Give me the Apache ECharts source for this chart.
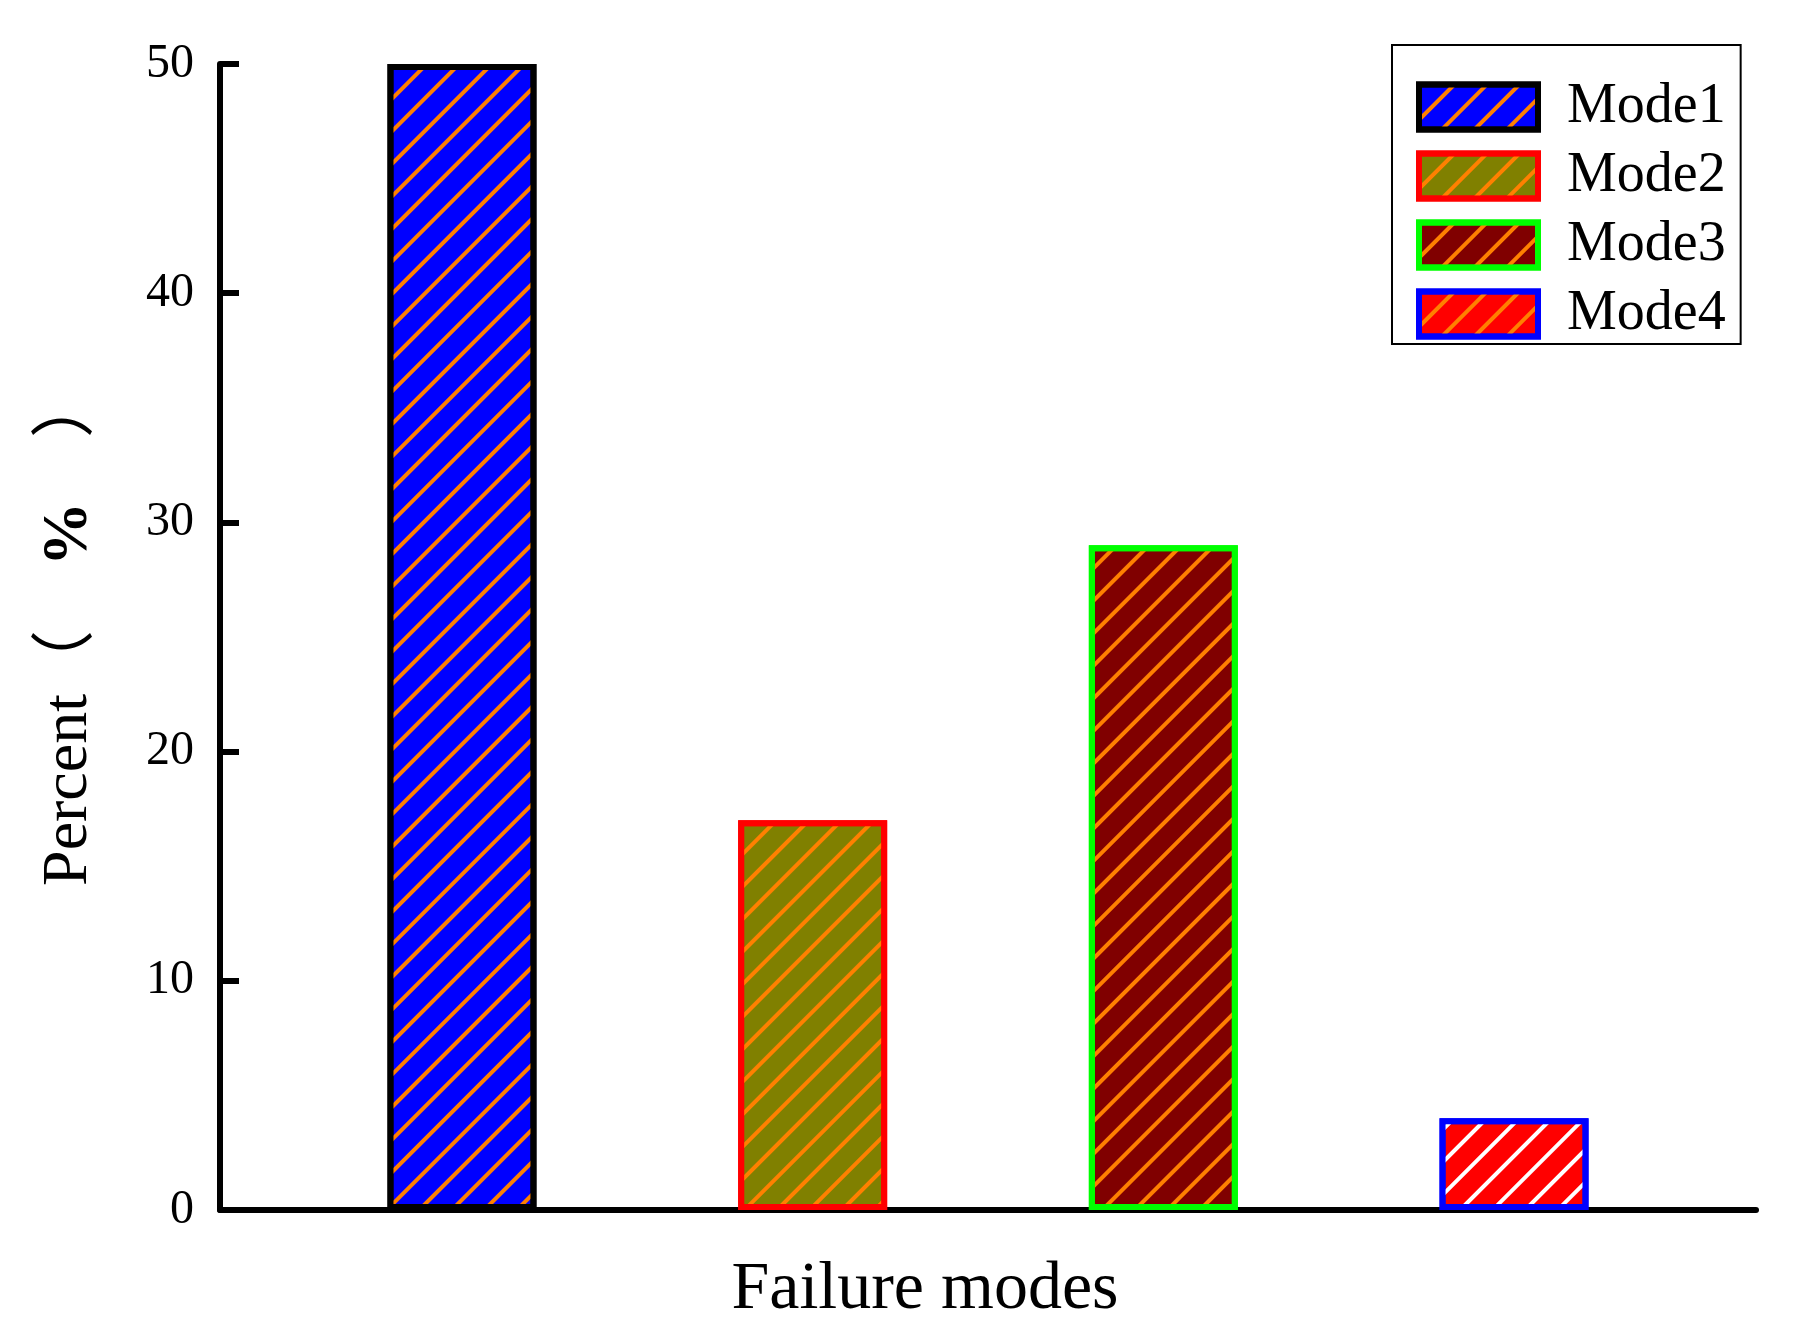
<!DOCTYPE html>
<html>
<head>
<meta charset="utf-8">
<title>Failure modes</title>
<script src="https://cdn.jsdelivr.net/npm/echarts@6/dist/echarts.min.js"></script>
<style>
    html, body { margin: 0; padding: 0; background: #fff; }
    #chart { width: 1797px; height: 1336px; }
</style>
</head>
<body>
<div id="chart"></div>
<script>
    // 数据
    var modeNames = ['Mode1', 'Mode2', 'Mode3', 'Mode4'];
    var percentValues = [50, 17, 29, 4];
    var yTicks = [0, 10, 20, 30, 40, 50];

    // 样式
    var fillColors = ['#0000ff', '#808000', '#800000', '#ff0000'];
    var borderColors = ['#000000', '#ff0000', '#00ff00', '#0000ff'];
    var stripeColors = ['#ff8000', '#ff8000', '#ff8000', '#ffffff'];

    var fontEn = "'Liberation Serif', 'Noto Sans CJK SC', serif";

    // 斜线填充
    function stripe(color) {
        return {
            symbol: 'rect',
            symbolSize: 1,
            color: color,
            dashArrayX: [1, 0],
            dashArrayY: [4, 19],
            rotation: -Math.PI / 4
        };
    }

    var seriesList = [];
    var legendData = [];
    modeNames.forEach(function (name, i) {
        seriesList.push({
            name: name,
            type: 'bar',
            barWidth: 149,
            barGap: '-100%',
            data: [[i + 1, percentValues[i]]],
            itemStyle: {
                color: fillColors[i],
                borderColor: borderColors[i],
                borderWidth: 6,
                decal: stripe(stripeColors[i])
            }
        });
        legendData.push({
            name: name,
            itemStyle: {
                color: fillColors[i],
                borderColor: borderColors[i],
                borderWidth: 6,
                decal: stripe('#ff8000')
            }
        });
    });

    var myChart = echarts.init(document.getElementById('chart'));
    myChart.setOption({
        animation: false,
        backgroundColor: '#fff',
        grid: {
            left: 220,
            right: 41,
            top: 64,
            bottom: 126
        },
        legend: {
            orient: 'vertical',
            left: 1392,
            top: 45,
            icon: 'rect',
            itemWidth: 119,
            itemHeight: 45,
            itemGap: 13,
            padding: [34, 15, 2, 24],
            borderColor: '#000',
            borderWidth: 2,
            textStyle: {
                fontFamily: fontEn,
                fontSize: 56,
                color: '#000',
                padding: [0, 0, 0, 24]
            },
            data: legendData
        },
        xAxis: {
            type: 'value',
            min: 0.31,
            max: 4.69,
            name: 'Failure modes',
            nameLocation: 'middle',
            nameGap: 46,
            nameTextStyle: {
                fontFamily: fontEn,
                fontSize: 68,
                color: '#000',
                padding: [0, 126, 0, 0]
            },
            axisLine: { lineStyle: { color: '#000', width: 6 } },
            axisTick: { show: false },
            axisLabel: { show: false },
            splitLine: { show: false }
        },
        yAxis: {
            type: 'value',
            min: yTicks[0],
            max: yTicks[yTicks.length - 1],
            interval: 10,
            name: 'Percent（　{b|%}　）',
            nameLocation: 'middle',
            nameGap: 119,
            nameTextStyle: {
                fontFamily: fontEn,
                fontSize: 64,
                color: '#000',
                padding: [0, 0, 0, 14],
                rich: {
                    b: { fontFamily: fontEn, fontSize: 64, fontWeight: 'bold', color: '#000' }
                }
            },
            axisLine: { show: true, lineStyle: { color: '#000', width: 6 } },
            axisTick: { show: true, inside: true, length: 19, lineStyle: { color: '#000', width: 6 } },
            axisLabel: {
                margin: 26,
                fontFamily: fontEn,
                fontSize: 48,
                color: '#000'
            },
            splitLine: { show: false }
        },
        series: seriesList
    });
</script>
</body>
</html>
